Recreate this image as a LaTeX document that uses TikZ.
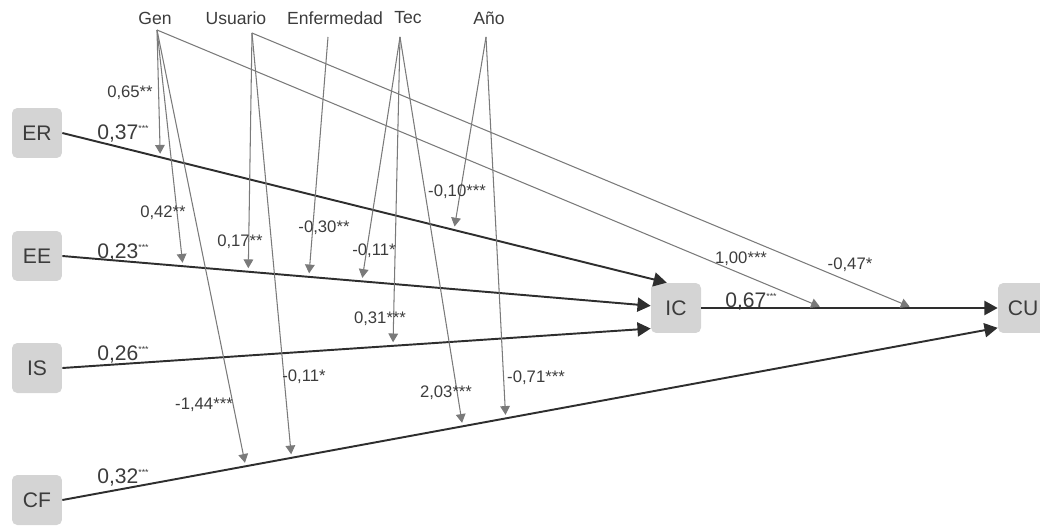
\documentclass[tikz,border=0pt]{standalone}
\usepackage{fontspec}
\setmainfont{Liberation Sans}
\usepackage{xcolor}
\usepackage{tikz}
\usetikzlibrary{arrows.meta,calc,positioning}
\definecolor{boxgray}{HTML}{D4D4D4}
\definecolor{txtgray}{HTML}{3C3C3C}
\definecolor{linedark}{HTML}{2E2E2E}
\definecolor{modgray}{HTML}{7A7A7A}

\begin{document}
\begin{tikzpicture}[
  x=0.02cm,y=-0.02cm,
  var/.style={fill=boxgray,rounded corners=3pt,minimum width=1cm,minimum height=1cm,inner sep=0pt,text=txtgray,font=\fontsize{12}{14}\selectfont},
  mod/.style={inner sep=1pt,text=txtgray,font=\fontsize{10}{12}\selectfont},
  coef/.style={inner sep=0pt,text=txtgray,font=\fontsize{9.5}{11}\selectfont},
  beta/.style={inner sep=0pt,text=txtgray,font=\fontsize{12}{14}\selectfont,anchor=base west},
  effect/.style={-{Triangle[length=7.5pt,width=8pt]},line width=1.1pt,draw=linedark},
  modarrow/.style={-{Triangle[length=5pt,width=5.5pt]},line width=0.6pt,draw=modgray,shorten >=2pt}
]
\useasboundingbox (0,0) rectangle (1040,527);

% constructs
\node[var] (ER) at (37,133) {ER};
\node[var] (EE) at (37,256) {EE};
\node[var] (IS) at (37,368) {IS};
\node[var] (CF) at (37,500) {CF};
\node[var] (IC) at (676,308) {IC};
\node[var] (CU) at (1023,308) {CU};

% moderators
\node[mod] (gen) at (155,18) {Gen};
\node[mod] (usuario) at (236,18) {Usuario};
\node[mod] (enfermedad) at (335,18) {Enfermedad};
\node[mod] (tec) at (408,18) {Tec};
\node[mod] (anio) at (489,18) {Año};
\coordinate (genS) at (157,30);
\coordinate (usuS) at (252,33);
\coordinate (enfS) at (328,37);
\coordinate (tecS) at (400,37);
\coordinate (anioS) at (486,37);

% direct effects
\draw[effect] (ER.east) -- (IC.110);
\draw[effect] (EE.east) -- (IC.175);
\draw[effect] (IS.east) -- (IC.219);
\draw[effect] (CF.east) -- (CU.218);
\draw[effect] (IC.east) -- (CU.west);

% points where the moderators hit
\path (ER.east) -- (IC.110) coordinate[pos=0.162] (erGen) coordinate[pos=0.648] (erAnio);
\path (EE.east) -- (IC.175) coordinate[pos=0.205] (eeGen) coordinate[pos=0.316] (eeUsu)
  coordinate[pos=0.419] (eeEnf) coordinate[pos=0.509] (eeTec);
\path (IS.east) -- (IC.219) coordinate[pos=0.562] (isTec);
\path (CF.east) -- (CU.218) coordinate[pos=0.196] (cfGen) coordinate[pos=0.245] (cfUsu)
  coordinate[pos=0.428] (cfTec) coordinate[pos=0.474] (cfAnio);
\path (IC.east) -- (CU.west) coordinate[pos=0.411] (icGen) coordinate[pos=0.714] (icUsu);

% moderating effects
\draw[modarrow] (genS) -- (erGen);
\draw[modarrow] (genS) -- (eeGen);
\draw[modarrow] (genS) -- (cfGen);
\draw[modarrow] (genS) -- (icGen);
\draw[modarrow] (usuS) -- (eeUsu);
\draw[modarrow] (usuS) -- (cfUsu);
\draw[modarrow] (usuS) -- (icUsu);
\draw[modarrow] (enfS) -- (eeEnf);
\draw[modarrow] (tecS) -- (eeTec);
\draw[modarrow] (tecS) -- (isTec);
\draw[modarrow] (tecS) -- (cfTec);
\draw[modarrow] (anioS) -- (erAnio);
\draw[modarrow] (anioS) -- (cfAnio);

% coefficients
\node[beta] (bER) at (97,139) {0,37\textsuperscript{\tiny ***}};
\node[beta] (bEE) at (97,258) {0,23\textsuperscript{\tiny ***}};
\node[beta] (bIS) at (97,360) {0,26\textsuperscript{\tiny ***}};
\node[beta] (bCF) at (97,483) {0,32\textsuperscript{\tiny ***}};
\node[beta] (bIC) at (725,307) {0,67\textsuperscript{\tiny ***}};

\node[coef] (cGenER) at (130,93) {0,65**};
\node[coef] (cGenEE) at (163,213) {0,42**};
\node[coef] (cGenCF) at (204,405) {-1,44***};
\node[coef] (cGenIC) at (741,259) {1,00***};
\node[coef] (cUsuEE) at (240,242) {0,17**};
\node[coef] (cUsuCF) at (304,377) {-0,11*};
\node[coef] (cUsuIC) at (850,265) {-0,47*};
\node[coef] (cEnfEE) at (324,228) {-0,30**};
\node[coef] (cTecEE) at (374,251) {-0,11*};
\node[coef] (cTecIS) at (380,319) {0,31***};
\node[coef] (cTecCF) at (446,393) {2,03***};
\node[coef] (cAnioER) at (457,192) {-0,10***};
\node[coef] (cAnioCF) at (536,378) {-0,71***};
\end{tikzpicture}
\end{document}
